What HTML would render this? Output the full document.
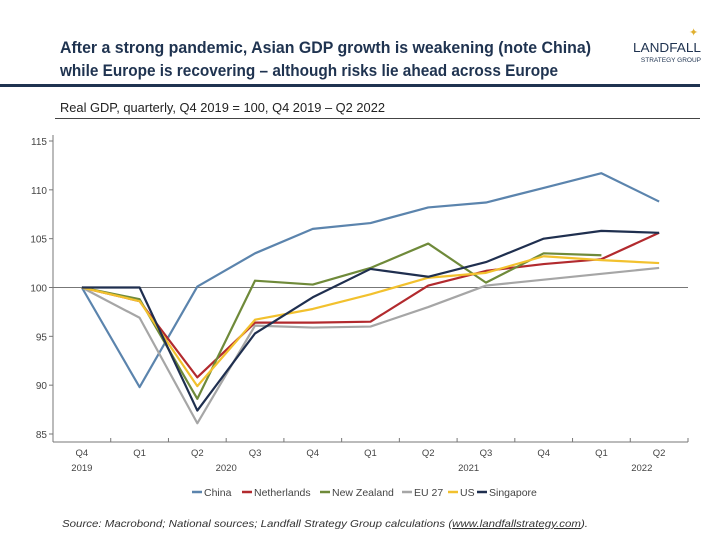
<!DOCTYPE html>
<html><head><meta charset="utf-8"><style>
body{margin:0;background:#fff;width:720px;height:540px;overflow:hidden;font-family:"Liberation Sans",sans-serif;}
</style></head><body>
<svg width="720" height="540" xmlns="http://www.w3.org/2000/svg">
<g>
<text x="60" y="53" font-size="16.5" font-weight="bold" fill="#1f3350" textLength="531" lengthAdjust="spacingAndGlyphs">After a strong pandemic, Asian GDP growth is weakening (note China)</text>
<text x="60" y="76" font-size="16.5" font-weight="bold" fill="#1f3350" textLength="498" lengthAdjust="spacingAndGlyphs">while Europe is recovering – although risks lie ahead across Europe</text>
<rect x="0" y="84" width="700" height="3" fill="#1f3350"/>
<text x="701" y="52" font-size="13" fill="#1f3350" text-anchor="end" textLength="68" lengthAdjust="spacingAndGlyphs">LANDFALL</text>
<text x="701" y="62" font-size="6.5" fill="#1f3350" text-anchor="end">STRATEGY GROUP</text>
<text x="689" y="36" font-size="11" fill="#e0b030">✦</text>
<text x="60" y="112" font-size="12.5" fill="#222" textLength="325" lengthAdjust="spacingAndGlyphs">Real GDP, quarterly, Q4 2019 = 100, Q4 2019 – Q2 2022</text>
<rect x="55" y="118" width="645" height="1" fill="#444"/>
</g>
<g id="plot"></g>
<g id="legend"></g>
<text x="62" y="527" font-size="10.5" font-style="italic" fill="#333" textLength="526" lengthAdjust="spacingAndGlyphs">Source: Macrobond; National sources; Landfall Strategy Group calculations (<tspan text-decoration="underline">www.landfallstrategy.com</tspan>).</text>
</svg>
<script>
const categories=["Q4","Q1","Q2","Q3","Q4","Q1","Q2","Q3","Q4","Q1","Q2"];
const years=[["2019",0],["2020",2.5],["2021",6.7],["2022",9.7]];
const yTicks=[85,90,95,100,105,110,115];
const seriesNames=["China","Netherlands","New Zealand","EU 27","US","Singapore"];
const seriesColors=["#5b84ad","#b22a2e","#6f8a3a","#a6a6a6","#f2c12e","#1f2f4f"];
const china=[100,89.8,100.1,103.5,106.0,106.6,108.2,108.7,110.2,111.7,108.8];
const netherlands=[100,98.6,90.8,96.4,96.4,96.5,100.2,101.7,102.4,102.9,105.6];
const newZealand=[100,98.8,88.6,100.7,100.3,102.0,104.5,100.5,103.5,103.3];
const eu27=[100,96.9,86.1,96.1,95.9,96.0,98.0,100.2,100.8,101.4,102.0];
const us=[100,98.6,89.9,96.7,97.8,99.3,101.0,101.5,103.2,102.8,102.5];
const singapore=[100,100,87.4,95.3,99.0,101.9,101.1,102.6,105.0,105.8,105.6];
const allSeries=[china,netherlands,newZealand,eu27,us,singapore];
const NS="http://www.w3.org/2000/svg";
const x0=53,x1=688,yTop=141,yBot=434,yMin=85,yMax=115,axisY=442;
const step=(x1-x0)/categories.length;
const xs=i=>x0+step*(i+0.5);
const ys=v=>yBot-(v-yMin)/(yMax-yMin)*(yBot-yTop);
const plot=document.getElementById('plot');
function mk(t,a,p){const e=document.createElementNS(NS,t);for(const k in a)e.setAttribute(k,a[k]);(p||plot).appendChild(e);return e;}
let e=mk('line',{x1:x0,y1:135,x2:x0,y2:axisY,stroke:'#777','stroke-width':1});


e=mk('line',{x1:x0,y1:axisY,x2:x1,y2:axisY,stroke:'#777','stroke-width':1});


e=mk('line',{x1:x0,y1:ys(100),x2:x1,y2:ys(100),stroke:'#777','stroke-width':1});


yTicks.forEach(v=>{
 let t=mk('line',{x1:x0-4,y1:ys(v),x2:x0,y2:ys(v),stroke:'#777'});
 
 
 let l=mk('text',{x:x0-6,y:ys(v)+4,'font-size':10,fill:'#444','text-anchor':'end'});
 l.textContent=v;
 
 
});
for(let i=0;i<=categories.length;i++){
 let t=mk('line',{x1:x0+step*i,y1:axisY,x2:x0+step*i,y2:axisY-4,stroke:'#777'});
 
 
}
categories.forEach((c,i)=>{
 let l=mk('text',{x:xs(i),y:456,'font-size':9.5,fill:'#444','text-anchor':'middle'});
 l.textContent=c;
 
 
});
years.forEach(([y,p])=>{
 let l=mk('text',{x:xs(p),y:471,'font-size':9.5,fill:'#444','text-anchor':'middle'});
 l.textContent=y;
 
 
});
allSeries.forEach((s,k)=>{
 const pts=s.map((v,i)=>xs(i)+','+ys(v)).join(' ');
 let p=mk('polyline',{points:pts,fill:'none',stroke:seriesColors[k],'stroke-width':2.2,'stroke-linejoin':'round'});
 
 
});
const lg=document.getElementById('legend');
let lx=192;
const widths=[50,78,82,46,29,70];
seriesNames.forEach((n,k)=>{
 let r=mk('line',{x1:lx,y1:492,x2:lx+10,y2:492,stroke:seriesColors[k],'stroke-width':2.5},lg);
 
 
 let t=mk('text',{x:lx+12,y:496,'font-size':10.5,fill:'#444'},lg);
 t.textContent=n;
 
 
 lx+=widths[k];
});
</script>
</body></html>
